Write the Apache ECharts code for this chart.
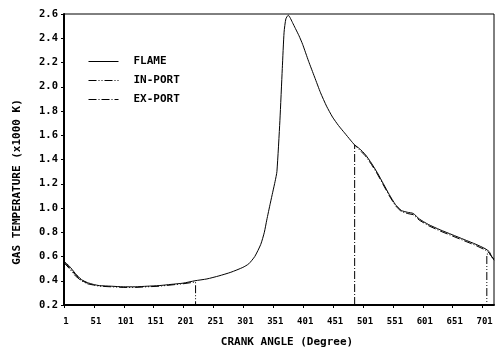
<!DOCTYPE html>
<html>
<head>
<meta charset="utf-8">
<script src="https://cdn.jsdelivr.net/npm/echarts@6/dist/echarts.min.js"></script>
<style>html,body{margin:0;padding:0;background:#fff}#c{width:497px;height:353px}</style>
</head>
<body>
<div id="c"></div>
<script>
// Crank angle (deg) and gas temperature (x1000 K)
const flameDeg = [1,10,20,30,40,50,60,80,100,120,140,160,180,200,220,240,260,280,300,310,320,330,336,340,346,350,354,357,362,366,369,372,376,379,383,388,394,400,410,420,430,440,450,460,470,480,487,495,505,515,525,535,545,555,565,575,585,595,610,630,650,670,690,705,712,716,720];
const flameVal = [0.56,0.52,0.46,0.41,0.385,0.37,0.36,0.355,0.35,0.35,0.355,0.36,0.37,0.38,0.40,0.415,0.44,0.47,0.51,0.54,0.60,0.70,0.80,0.90,1.04,1.13,1.22,1.30,1.72,2.15,2.45,2.56,2.59,2.57,2.53,2.48,2.42,2.35,2.21,2.08,1.95,1.84,1.75,1.68,1.62,1.56,1.52,1.49,1.44,1.37,1.29,1.20,1.11,1.03,0.98,0.965,0.955,0.91,0.865,0.82,0.78,0.74,0.70,0.665,0.64,0.60,0.57];

const inDeg = [1,10,20,30,40,50,60,80,100,120,140,160,180,200,221,221,708,708,712,716,720];
const inVal = [0.55,0.50,0.44,0.40,0.375,0.365,0.355,0.35,0.345,0.345,0.35,0.355,0.365,0.375,0.39,0.2,0.2,0.62,0.62,0.60,0.58];

const exDeg = [1,10,20,30,40,50,487,487,495,505,515,525,535,545,555,565,575,585,595,610,630,650,670,690,705,712,716,720];
const exVal = [0.55,0.51,0.45,0.405,0.38,null,0.2,1.52,1.48,1.43,1.36,1.28,1.19,1.10,1.02,0.97,0.955,0.945,0.90,0.855,0.81,0.77,0.73,0.69,0.655,0.63,0.60,0.57];

const xTicks = [1,51,101,151,201,251,301,351,401,451,501,551,601,651,701];
const seriesNames = ['FLAME','IN-PORT','EX-PORT'];

const pair = (a,b) => a.map((v,i)=>[v,b[i]]);
const font = 'DejaVu Sans Mono';

const chart = echarts.init(document.getElementById('c'));
chart.setOption({
  animation: false,
  backgroundColor: '#fff',
  grid: {left: 64, right: 3, top: 14, bottom: 47, show: true, borderColor: '#000', borderWidth: 1},
  legend: {
    orient: 'vertical', left: 88, top: 56, itemWidth: 30, itemHeight: 12, itemGap: 8, padding: 0,
    data: seriesNames,
    itemStyle: {opacity: 0},
    lineStyle: {width: 1},
    textStyle: {fontFamily: font, fontWeight: 'bold', fontSize: 11, color: '#000', padding: [0,0,0,10]}
  },
  xAxis: {
    type: 'value', min: 1, max: 720,
    axisLine: {lineStyle: {color: '#000', width: 2}},
    axisTick: {customValues: xTicks, length: 3, lineStyle: {color: '#000', width: 1}},
    axisLabel: {customValues: xTicks, color: '#000', fontFamily: font, fontWeight: 'bold', fontSize: 9, margin: 12, padding: [0,0,0,4]},
    splitLine: {show: false},
    name: 'CRANK ANGLE (Degree)', nameLocation: 'middle', nameGap: 32,
    nameTextStyle: {color: '#000', fontFamily: font, fontWeight: 'bold', fontSize: 11, padding: [0,0,0,16]}
  },
  yAxis: {
    type: 'value', min: 0.2, max: 2.6, interval: 0.2,
    axisLine: {lineStyle: {color: '#000', width: 2}},
    axisTick: {length: 3, lineStyle: {color: '#000'}},
    axisLabel: {color: '#000', fontFamily: font, fontWeight: 'bold', fontSize: 10.5, margin: 6, formatter: v => v.toFixed(1)},
    splitLine: {show: false}
  },
  graphic: [{
    type: 'text', x: 17, y: 182, rotation: Math.PI/2,
    style: {text: 'GAS TEMPERATURE (x1000 K)', fill: '#000', align: 'center', verticalAlign: 'middle',
            font: 'bold 11px "DejaVu Sans Mono"'}
  }],
  series: [
    {name: 'FLAME', type: 'line', data: pair(flameDeg, flameVal), symbol: 'none', smooth: 0.2,
     lineStyle: {color: '#000', width: 1}, itemStyle: {color: '#000'}},
    {name: 'IN-PORT', type: 'line', data: pair(inDeg, inVal), symbol: 'none',
     lineStyle: {color: '#000', width: 1, type: [8,2,1,2,1,2]}, itemStyle: {color: '#000'}},
    {name: 'EX-PORT', type: 'line', data: pair(exDeg, exVal), symbol: 'none', connectNulls: false,
     lineStyle: {color: '#000', width: 1, type: [8,2,1,2]}, itemStyle: {color: '#000'}}
  ]
});
</script>
</body>
</html>
